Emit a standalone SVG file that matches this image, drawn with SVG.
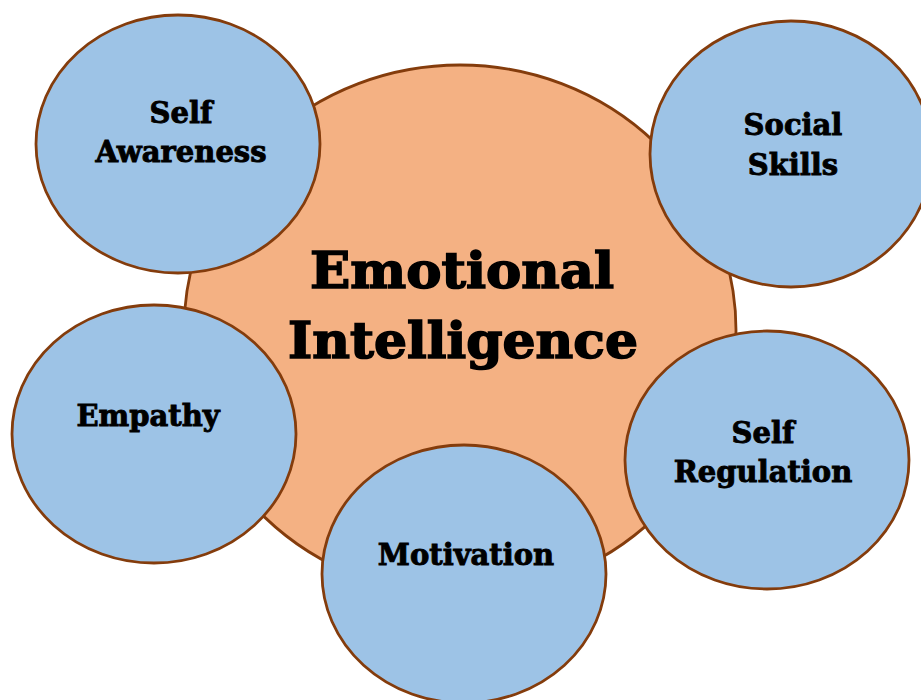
<svg xmlns="http://www.w3.org/2000/svg" width="921" height="700" viewBox="0 0 921 700">
<style>
.c{fill:#9dc3e6;stroke:#843c0c;stroke-width:2.8}
.m{fill:#f4b183;stroke:#843c0c;stroke-width:2.8}
text{font-family:"DejaVu Serif","Liberation Serif",serif;font-weight:bold;fill:#000;stroke:#000;text-anchor:middle}
.s{font-size:29px;stroke-width:0.9}
.b{font-size:50px;stroke-width:1.6}
</style>
<rect width="921" height="700" fill="#fff"/>
<g id="connectors"></g>
<g id="emotional-intelligence">
<ellipse class="m" cx="460" cy="330" rx="276" ry="265"/>
<text class="b" x="462" y="288" textLength="304" lengthAdjust="spacingAndGlyphs">Emotional</text>
<text class="b" x="463" y="358" textLength="350" lengthAdjust="spacingAndGlyphs">Intelligence</text>
</g>
<g id="self-awareness">
<ellipse class="c" cx="178" cy="144" rx="142" ry="129"/>
<text class="s" x="181" y="123">Self</text>
<text class="s" x="181" y="162">Awareness</text>
</g>
<g id="social-skills">
<ellipse class="c" cx="791" cy="154" rx="141" ry="133"/>
<text class="s" x="793" y="135">Social</text>
<text class="s" x="793" y="175">Skills</text>
</g>
<g id="empathy">
<ellipse class="c" cx="154" cy="434" rx="142" ry="129"/>
<text class="s" x="148" y="426">Empathy</text>
</g>
<g id="self-regulation">
<ellipse class="c" cx="767" cy="460" rx="142" ry="129"/>
<text class="s" x="763" y="443">Self</text>
<text class="s" x="763" y="482">Regulation</text>
</g>
<g id="motivation">
<ellipse class="c" cx="464" cy="574" rx="142" ry="129"/>
<text class="s" x="466" y="565">Motivation</text>
</g>
</svg>
